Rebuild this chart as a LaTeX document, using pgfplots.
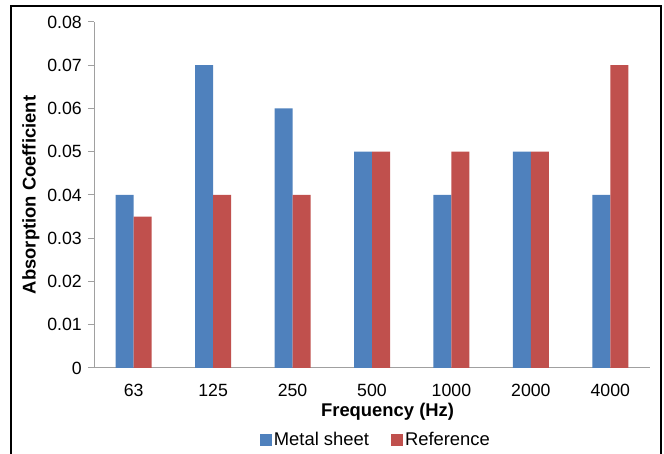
\documentclass[border=0pt]{standalone}
\usepackage{pgfplots}
\pgfplotsset{compat=1.18}
\usepackage{fontspec}
\setmainfont{Liberation Sans}
\definecolor{sblue}{RGB}{79,129,189}
\definecolor{sred}{RGB}{192,80,77}
\definecolor{axgray}{RGB}{160,160,160}
\newcommand{\tickf}{\fontsize{17.7}{20}\selectfont}
\newcommand{\labf}{\fontsize{18.4}{21}\selectfont}
\begin{document}
\begin{tikzpicture}[x=1pt,y=1pt]
\path[use as bounding box] (0,0) rectangle (664,454);
\draw[black,line width=1.2pt] (11,-5) -- (11,448) -- (661,448) -- (661,-5);
\begin{axis}[
  at={(94pt,86pt)}, anchor=south west,
  scale only axis, width=556pt, height=346pt,
  ybar=0pt, bar width=18pt,
  xmin=-0.5, xmax=6.5, ymin=0, ymax=0.08,
  scaled y ticks=false,
  axis x line*=bottom, axis y line*=left,
  axis line style={axgray, line width=1pt, -},
  xtick={0,1,2,3,4,5,6},
  xticklabels={63,125,250,500,1000,2000,4000},
  minor xtick={-0.5,0.5,1.5,2.5,3.5,4.5,5.5,6.5},
  xtick style={draw=none},
  minor x tick style={axgray, line width=1pt},
  ytick={0,0.01,0.02,0.03,0.04,0.05,0.06,0.07,0.08},
  yticklabels={0,0.01,0.02,0.03,0.04,0.05,0.06,0.07,0.08},
  y tick style={axgray, line width=1pt},
  tick align=outside, major tick length=6pt, minor tick length=6pt,
  xticklabel style={font=\tickf, anchor=base, inner sep=0pt, yshift=-23pt},
  yticklabel style={font=\tickf, anchor=east, inner sep=0pt, xshift=-6pt},
  xlabel={Frequency (Hz)},
  ylabel={Absorption Coefficient},
  every axis x label/.style={at={(axis description cs:0.528,-0.1416)}, anchor=base, inner sep=0pt, font=\labf\bfseries},
  every axis y label/.style={at={(axis description cs:-0.1137,0.5)}, rotate=90, anchor=center, font=\labf\bfseries},
  legend style={at={(axis description cs:0.507,-0.208)}, anchor=center, draw=none,
    legend columns=2, font=\labf,
    /tikz/every even column/.append style={column sep=20pt}},
  legend cell align=left,
  legend image code/.code={\fill[#1,draw=none] (0pt,-6pt) rectangle (12pt,6pt);},
]
\addplot[fill=sblue, draw=none] coordinates {(0,0.04) (1,0.07) (2,0.06) (3,0.05) (4,0.04) (5,0.05) (6,0.04)};
\addplot[fill=sred, draw=none] coordinates {(0,0.035) (1,0.04) (2,0.04) (3,0.05) (4,0.05) (5,0.05) (6,0.07)};
\legend{Metal sheet, Reference}
\end{axis}
\end{tikzpicture}
\end{document}
